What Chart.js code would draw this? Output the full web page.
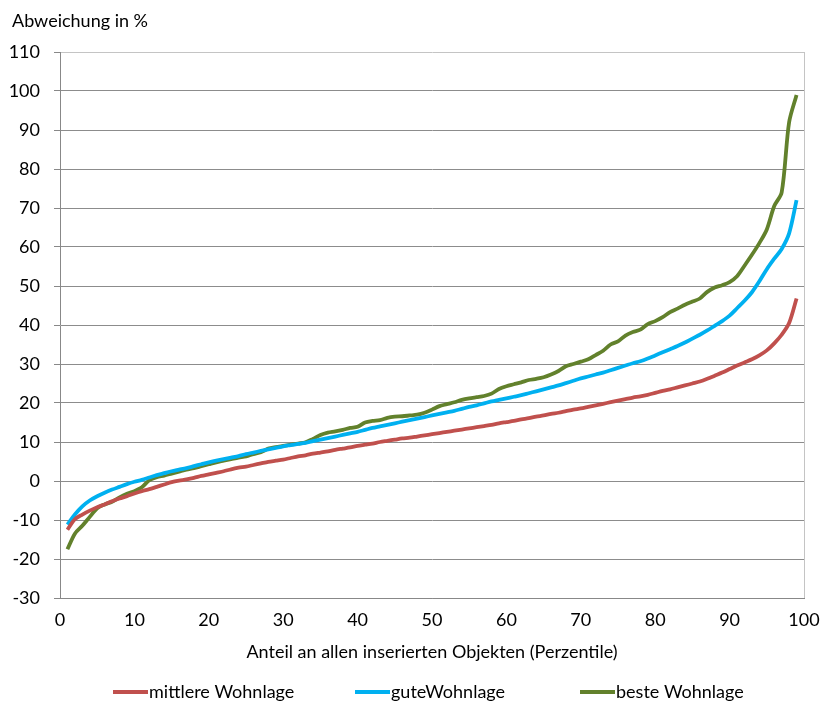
<!DOCTYPE html>
<html>
<head>
<meta charset="utf-8">
<script src="https://cdn.jsdelivr.net/npm/chart.js@4.4.1/dist/chart.umd.min.js"></script>
<style>
  html, body { margin: 0; padding: 0; background: #fff; }
  #wrap { position: relative; width: 822px; height: 705px; }
</style>
</head>
<body>
<div id="wrap"><canvas id="chart" width="822" height="705"></canvas></div>
<script>
// percentiles 1..99
const percentiles = Array.from({length: 99}, (_, i) => i + 1);

const mittlere = [
  -12.5, -9.8, -8.6, -7.6, -6.7, -6.0, -5.2, -4.5, -3.9, -3.2,
  -2.6, -2.1, -1.5, -0.9, -0.3, 0.1, 0.4, 0.8, 1.3, 1.7,
  2.1, 2.5, 3.0, 3.4, 3.7, 4.1, 4.5, 4.9, 5.2, 5.5,
  5.9, 6.3, 6.6, 7.0, 7.3, 7.6, 8.0, 8.3, 8.6, 9.0,
  9.3, 9.6, 10.0, 10.3, 10.6, 10.9, 11.1, 11.4, 11.7, 12.0,
  12.3, 12.6, 12.9, 13.2, 13.5, 13.8, 14.1, 14.4, 14.8, 15.1,
  15.4, 15.8, 16.1, 16.5, 16.8, 17.2, 17.5, 17.9, 18.3, 18.6,
  19.0, 19.4, 19.8, 20.2, 20.6, 21.0, 21.4, 21.7, 22.1, 22.6,
  23.1, 23.5, 24.0, 24.5, 25.0, 25.5, 26.2, 27.0, 27.8, 28.7,
  29.6, 30.4, 31.2, 32.2, 33.5, 35.3, 37.5, 40.5, 46.8
];

const gute = [
  -11.2, -8.6, -6.5, -5.0, -3.9, -3.0, -2.2, -1.5, -0.8, -0.2,
  0.3, 0.9, 1.5, 2.0, 2.5, 2.9, 3.3, 3.8, 4.3, 4.8,
  5.2, 5.6, 6.0, 6.4, 6.9, 7.3, 7.7, 8.1, 8.5, 8.9,
  9.2, 9.5, 9.8, 10.2, 10.6, 11.0, 11.4, 11.8, 12.2, 12.6,
  13.1, 13.6, 14.0, 14.4, 14.8, 15.2, 15.6, 16.0, 16.4, 16.8,
  17.2, 17.6, 18.0, 18.5, 19.0, 19.4, 19.9, 20.4, 20.8, 21.2,
  21.6, 22.0, 22.5, 23.0, 23.5, 24.0, 24.5, 25.1, 25.7, 26.3,
  26.8, 27.3, 27.8, 28.4, 29.0, 29.6, 30.2, 30.7, 31.4, 32.2,
  33.0, 33.8, 34.6, 35.5, 36.5, 37.5, 38.6, 39.8, 41.0, 42.4,
  44.3, 46.2, 48.4, 51.2, 54.3, 57.0, 59.5, 63.5, 72.0
];

const beste = [
  -17.5, -13.5, -11.5, -9.2, -7.0, -6.0, -5.3, -4.2, -3.3, -2.6,
  -1.6, 0.2, 1.0, 1.4, 1.9, 2.4, 2.9, 3.3, 3.8, 4.3,
  4.8, 5.2, 5.6, 6.0, 6.3, 6.9, 7.4, 8.3, 8.7, 9.0,
  9.3, 9.6, 9.9, 10.8, 11.8, 12.4, 12.7, 13.1, 13.6, 13.9,
  15.0, 15.4, 15.6, 16.2, 16.5, 16.6, 16.8, 17.0, 17.5, 18.3,
  19.2, 19.7, 20.2, 20.8, 21.2, 21.5, 21.8, 22.4, 23.6, 24.3,
  24.8, 25.3, 25.9, 26.2, 26.6, 27.3, 28.2, 29.4, 30.0, 30.6,
  31.2, 32.3, 33.4, 35.0, 35.8, 37.3, 38.2, 38.8, 40.2, 41.0,
  42.0, 43.3, 44.2, 45.2, 46.0, 46.8, 48.5, 49.6, 50.2, 51.0,
  52.5, 55.2, 58.0, 61.0, 64.5, 70.5, 74.0, 92.0, 99.0
];

const seriesNames = ["mittlere Wohnlage", "guteWohnlage", "beste Wohnlage"];
const seriesColors = ["#C0504D", "#00B0F0", "#62812C"];
const yTitle = "Abweichung in %";
const xTitle = "Anteil an allen inserierten Objekten (Perzentile)";

const FONT = "Lato";
Chart.defaults.font.family = FONT;
Chart.defaults.font.size = 18;
Chart.defaults.color = "#000";

function toPoints(values) {
  return values.map((v, i) => ({x: percentiles[i], y: v}));
}

// draws the y label at top-left and the legend row at the bottom
const extras = {
  id: "extras",
  afterDraw(chart) {
    const ctx = chart.ctx;
    ctx.save();
    ctx.fillStyle = "#000";
    ctx.font = "18px " + FONT;
    ctx.textBaseline = "middle";
    ctx.textAlign = "left";
    ctx.fillText(yTitle, 12, 21);

    const starts = [113, 355, 580];
    const y = 692;
    chart.data.datasets.forEach((ds, i) => {
      ctx.strokeStyle = ds.borderColor;
      ctx.lineWidth = 4;
      ctx.beginPath();
      ctx.moveTo(starts[i], y);
      ctx.lineTo(starts[i] + 35, y);
      ctx.stroke();
      ctx.fillStyle = "#000";
      ctx.fillText(ds.label, starts[i] + 36, y);
    });
    ctx.restore();
  }
};

new Chart(document.getElementById("chart").getContext("2d"), {
  type: "line",
  data: {
    datasets: [0, 1, 2].map(i => ({
      label: seriesNames[i],
      data: toPoints([mittlere, gute, beste][i]),
      borderColor: seriesColors[i],
      backgroundColor: seriesColors[i],
      borderWidth: 3.8,
      pointRadius: 0,
      tension: 0.3,
      fill: false
    }))
  },
  options: {
    responsive: false,
    animation: false,
    layout: {padding: {top: 52, left: 0, right: 18, bottom: 42}},
    plugins: {
      legend: {display: false},
      tooltip: {enabled: false}
    },
    scales: {
      x: {
        type: "linear",
        min: 0,
        max: 100,
        afterFit: s => { s.height = 65; s.paddingRight = 0; },
        ticks: {stepSize: 10, padding: 6},
        grid: {display: false, drawTicks: true, tickLength: 5, tickColor: "#888"},
        border: {color: "#888", width: 1},
        title: {display: true, text: xTitle, font: {size: 18}, padding: {top: 0, bottom: 0}}
      },
      y: {
        min: -30,
        max: 110,
        afterFit: s => { s.width = 60; },
        ticks: {stepSize: 10, padding: 14},
        grid: {
          color: ctx => ctx.tick && ctx.tick.value === 110 ? "#c4c4c4" : "#8c8c8c",
          lineWidth: 1,
          tickLength: 6,
          tickColor: "#888"
        },
        border: {color: "#888", width: 1}
      }
    }
  },
  plugins: [extras, {
    id: "rightEdge",
    beforeDatasetsDraw(chart) {
      const {ctx, chartArea} = chart;
      ctx.save();
      ctx.strokeStyle = "#c4c4c4";
      ctx.lineWidth = 1;
      ctx.beginPath();
      ctx.moveTo(chartArea.right + 0.5, chartArea.top);
      ctx.lineTo(chartArea.right + 0.5, chartArea.bottom);
      ctx.stroke();
      ctx.restore();
    }
  }]
});
</script>
</body>
</html>
